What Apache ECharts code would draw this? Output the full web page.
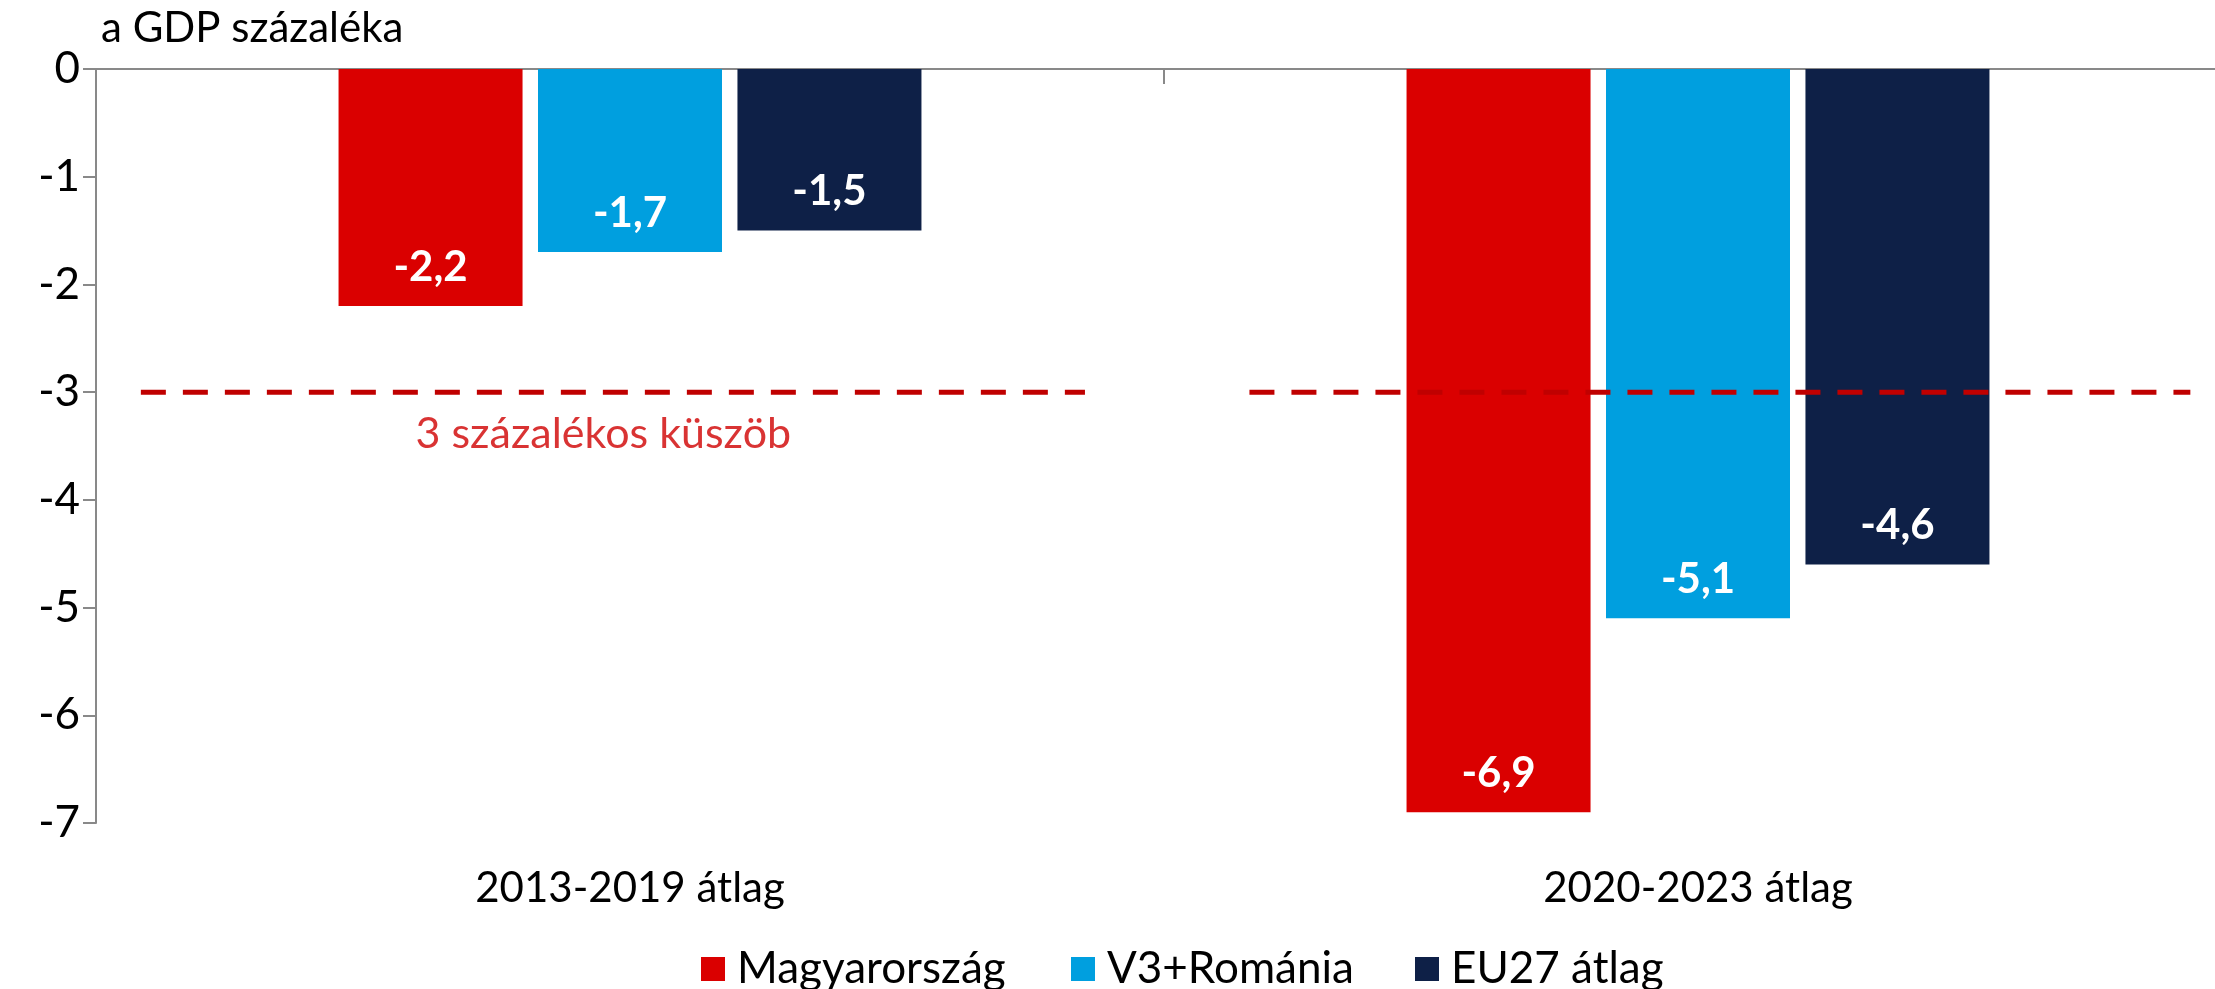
<!DOCTYPE html>
<html>
<head>
<meta charset="utf-8">
<script src="https://cdn.jsdelivr.net/npm/echarts@6/dist/echarts.min.js"></script>
<style>
  html, body { margin: 0; padding: 0; background: #fff; }
  #chart { width: 2215px; height: 989px; }
</style>
</head>
<body>
<div id="chart"></div>
<script>
// adatok
const categories = ['2013-2019 átlag', '2020-2023 átlag']
const seriesNames = ['Magyarország', 'V3+Románia', 'EU27 átlag']
const hungary = [-2.2, -6.9]
const v3Romania = [-1.7, -5.1]
const eu27 = [-1.5, -4.6]
const yTicks = [0, -1, -2, -3, -4, -5, -6, -7]
const threshold = -3
const thresholdLabel = '3 százalékos küszöb'
// threshold line pieces, in category units (0..2 across the plot)
const thresholdSegA = [0.042, 0.926]
const thresholdSegB = [1.08, 1.961]
const thresholdLabelX = 0.475

const colors = ['#DA0000', '#009FDF', '#0E2047']
const font = 'Lato, "Open Sans", sans-serif'

const chart = echarts.init(document.getElementById('chart'))

function barSeries(name, data, color) {
  return {
    name: name,
    type: 'bar',
    xAxisIndex: 0,
    yAxisIndex: 0,
    data: data,
    barWidth: 184,
    barGap: '8.4%',
    itemStyle: { color: color },
    label: {
      show: true,
      position: 'insideBottom',
      distance: 18,
      color: '#fff',
      fontFamily: font,
      fontWeight: 'bold',
      fontSize: 42,
      formatter: p => String(p.value).replace('.', ',')
    }
  }
}

function dashLine(seg) {
  return {
    type: 'line',
    xAxisIndex: 2,
    yAxisIndex: 0,
    data: [[seg[0], threshold], [seg[1], threshold]],
    symbol: 'none',
    silent: true,
    z: 5,
    lineStyle: { color: '#C00000', width: 5, type: [25, 17] }
  }
}

chart.setOption({
  animation: false,
  backgroundColor: '#fff',
  title: {
    text: 'a GDP százaléka',
    left: 96,
    top: 2,
    textStyle: { fontFamily: font, fontSize: 42, fontWeight: 'normal', color: '#000' }
  },
  grid: {
    left: 96,
    width: 2136,
    top: 69,
    bottom: 166,
    containLabel: false,
    outerBoundsMode: 'none'
  },
  legend: seriesNames.map((n, i) => ({
    data: [n],
    left: [696, 1066, 1410][i],
    top: 942,
    icon: 'rect',
    itemWidth: 24,
    itemHeight: 24,
    selectedMode: false,
    textStyle: { fontFamily: font, fontSize: 44, color: '#000', padding: [0, 0, 0, 7] }
  })),
  xAxis: [
    {
      type: 'category',
      data: categories,
      position: 'top',
      axisLine: { onZero: false, lineStyle: { color: '#898989', width: 2 } },
      axisTick: { show: true, inside: true, length: 15, lineStyle: { color: '#898989', width: 2 } },
      axisLabel: { show: false },
      splitLine: { show: false }
    },
    {
      type: 'category',
      data: categories,
      position: 'bottom',
      axisLine: { show: false, onZero: false },
      axisTick: { show: false },
      axisLabel: { margin: 44, fontFamily: font, fontSize: 42, color: '#000' },
      splitLine: { show: false }
    },
    {
      type: 'value',
      min: 0,
      max: 2,
      show: false
    }
  ],
  yAxis: {
    type: 'value',
    min: yTicks[yTicks.length - 1],
    max: yTicks[0],
    interval: 1,
    axisLine: { show: true, lineStyle: { color: '#898989', width: 2 } },
    axisTick: { show: true, length: 13, lineStyle: { color: '#898989', width: 2 } },
    axisLabel: { margin: 16, fontFamily: font, fontSize: 44, color: '#000' },
    splitLine: { show: false }
  },
  series: [
    barSeries(seriesNames[0], hungary, colors[0]),
    barSeries(seriesNames[1], v3Romania, colors[1]),
    barSeries(seriesNames[2], eu27, colors[2]),
    dashLine(thresholdSegA),
    dashLine(thresholdSegB),
    {
      type: 'scatter',
      xAxisIndex: 2,
      yAxisIndex: 0,
      data: [[thresholdLabelX, threshold]],
      symbolSize: 0,
      silent: true,
      label: {
        show: true,
        position: 'bottom',
        distance: 20,
        formatter: thresholdLabel,
        fontFamily: font,
        fontSize: 43,
        color: '#D00000'
      }
    }
  ]
})
</script>
</body>
</html>
